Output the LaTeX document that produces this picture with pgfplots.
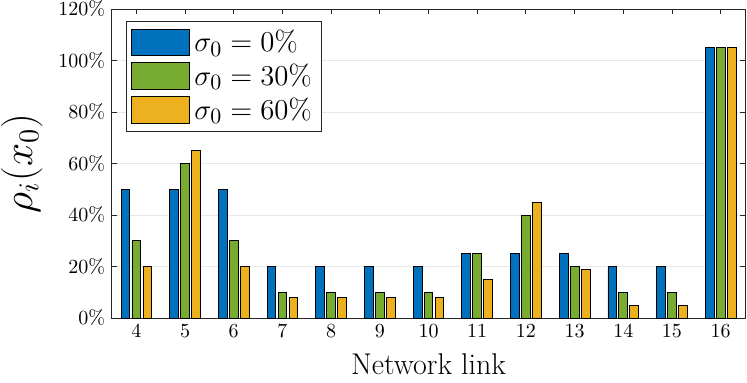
\documentclass[border=0pt]{standalone}
\usepackage{pgfplots}
\pgfplotsset{compat=1.18}
\usepackage{pgfplotstable}
\definecolor{mblue}{rgb}{0,0.447,0.741}
\definecolor{mgreen}{rgb}{0.466,0.674,0.188}
\definecolor{myellow}{rgb}{0.929,0.694,0.125}
\definecolor{axgray}{rgb}{0.15,0.15,0.15}
\pgfplotstableread{
link s0 s30 s60
4 50 30 20
5 50 60 65
6 50 30 20
7 20 10 8
8 20 10 8
9 20 10 8
10 20 10 8
11 25 25 15
12 25 40 45
13 25 20 19
14 20 10 5
15 20 10 5
16 105 105 105
}\datatable
\begin{document}
\begin{tikzpicture}
\begin{axis}[
  at={(56pt,32pt)}, anchor=south west,
  scale only axis, width=316.5pt, height=154.5pt,
  xmin=3.5, xmax=16.5, ymin=0, ymax=120,
  xtick={4,...,16}, ytick={0,20,...,120},
  yticklabel={\pgfmathprintnumber{\tick}\%},
  tick align=inside, xtick pos=both, ytick pos=both,
  major tick length=2.5pt,
  tick style={axgray, line width=0.4pt},
  axis line style={axgray, line width=0.5pt},
  ymajorgrids, grid style={gray!18, line width=0.5pt},
  ticklabel style={font=\normalsize},
  xlabel={Network link},
  xlabel style={font=\fontsize{15}{18}\selectfont, yshift=-1pt},
  ylabel={$\rho_i(x_0)$},
  ylabel style={font=\fontsize{20}{24}\selectfont, yshift=1pt},
  bar width=0.18,
  legend cell align=left,
  legend style={at={(0.022,0.962)}, anchor=north west, draw=axgray, line width=0.5pt,
    font=\fontsize{15.8}{18}\selectfont, inner sep=2.5pt, row sep=0.5pt},
  legend image code/.code={\draw[#1, draw=black, line width=0.5pt] (0pt,-6.7pt) rectangle (29pt,6.7pt);},
]
\addplot[ybar, bar shift=-0.225, fill=mblue, draw=black, line width=0.4pt] table[x=link,y=s0] {\datatable};
\addplot[ybar, bar shift=0, fill=mgreen, draw=black, line width=0.4pt] table[x=link,y=s30] {\datatable};
\addplot[ybar, bar shift=0.225, fill=myellow, draw=black, line width=0.4pt] table[x=link,y=s60] {\datatable};
\legend{$\sigma_0=0\%$, $\sigma_0=30\%$, $\sigma_0=60\%$}
\end{axis}
\pgfresetboundingbox
\path (0,0) rectangle (373.5pt,191pt);
\end{tikzpicture}
\end{document}
